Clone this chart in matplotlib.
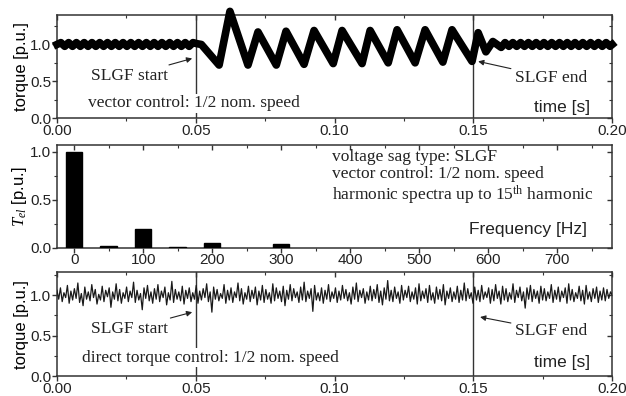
import matplotlib
matplotlib.use('Agg')
import matplotlib.pyplot as plt
from matplotlib.ticker import MultipleLocator, FormatStrFormatter

# --- data ---
# vector control torque: key points of the (thick) waveform
t_vc = [0.0, 0.0014, 0.0028, 0.0042, 0.0056, 0.0070, 0.0084, 0.0098, 0.0112, 0.0126,
        0.0140, 0.0154, 0.0168, 0.0182, 0.0196, 0.0210, 0.0224, 0.0238, 0.0252, 0.0266,
        0.0280, 0.0294, 0.0308, 0.0322, 0.0336, 0.0350, 0.0364, 0.0378, 0.0392, 0.0406,
        0.0420, 0.0434, 0.0448, 0.0462, 0.0476, 0.0490, 0.0505, 0.0520,
        0.0584, 0.0623, 0.0688, 0.0724, 0.0790, 0.0825, 0.0890, 0.0926, 0.0995, 0.1027,
        0.1099, 0.1128, 0.1193, 0.1225, 0.1290, 0.1326, 0.1390, 0.1423, 0.1495, 0.1517,
        0.1545, 0.1570, 0.1600, 0.1614, 0.1628, 0.1642, 0.1656, 0.1670, 0.1684, 0.1698,
        0.1712, 0.1726, 0.1740, 0.1754, 0.1768, 0.1782, 0.1796, 0.1810, 0.1824, 0.1838,
        0.1852, 0.1866, 0.1880, 0.1894, 0.1908, 0.1922, 0.1936, 0.1950, 0.1964, 0.1978,
        0.1992, 0.2000]
v_vc = [1.0, 1.025, 0.975, 1.025, 0.975, 1.025, 0.975, 1.025, 0.975, 1.025,
        0.975, 1.025, 0.975, 1.025, 0.975, 1.025, 0.975, 1.025, 0.975, 1.025,
        0.975, 1.025, 0.975, 1.025, 0.975, 1.025, 0.975, 1.025, 0.975, 1.025,
        0.975, 1.025, 0.975, 1.025, 0.975, 1.025, 1.01, 1.00,
        0.72, 1.45, 0.72, 1.17, 0.72, 1.18, 0.73, 1.19, 0.74, 1.19,
        0.74, 1.19, 0.75, 1.20, 0.75, 1.20, 0.76, 1.20, 0.77, 1.16,
        0.90, 1.04, 0.96, 1.025, 0.975, 1.025, 0.975, 1.025, 0.975, 1.025,
        0.975, 1.025, 0.975, 1.025, 0.975, 1.025, 0.975, 1.025, 0.975, 1.025,
        0.975, 1.025, 0.975, 1.025, 0.975, 1.025, 0.975, 1.025, 0.975, 1.025,
        0.975, 1.00]

# harmonic spectrum
freq = [0, 50, 100, 150, 200, 300]
t_el = [1.0, 0.02, 0.20, 0.005, 0.05, 0.04]

# direct torque control torque (noisy trace, hand-read samples over 0..0.2 s)
dtc = [1.06, 0.95, 1.09, 0.92, 1.03, 0.97, 1.12, 0.90, 1.05, 0.94, 1.08, 0.96, 1.15, 0.91, 1.02, 0.87, 1.10, 0.95, 1.04, 0.93,
       1.13, 0.97, 1.07, 0.89, 1.01, 0.94, 1.11, 0.92, 1.06, 0.98, 1.09, 0.85, 1.04, 0.95, 1.14, 0.93, 1.07, 0.90, 1.03, 0.96,
       1.10, 0.92, 1.05, 0.97, 1.16, 0.91, 1.06, 0.94, 1.02, 0.82, 1.09, 0.96, 1.12, 0.93, 1.04, 0.90, 1.08, 0.95, 1.13, 0.92,
       1.05, 0.97, 1.10, 0.88, 1.03, 0.94, 1.17, 0.91, 1.07, 0.95, 1.04, 0.93, 1.11, 0.89, 1.06, 0.96, 1.09, 0.92, 1.03, 0.95,
       1.12, 0.90, 1.05, 0.94, 1.08, 0.97, 1.14, 0.92, 1.04, 0.79, 1.10, 0.95, 1.07, 0.93, 1.02, 0.96, 1.13, 0.90, 1.06, 0.94,
       1.09, 0.91, 1.04, 0.97, 1.15, 0.93, 1.08, 0.89, 1.03, 0.95, 1.11, 0.92, 1.06, 0.96, 1.10, 0.88, 1.05, 0.94, 1.12, 0.91,
       1.07, 0.95, 1.03, 0.90, 1.14, 0.93, 1.09, 0.96, 1.05, 0.92, 1.11, 0.87, 1.06, 0.95, 1.13, 0.93, 1.08, 0.97, 1.04, 0.91,
       1.10, 0.94, 1.16, 0.92, 1.05, 0.96, 1.08, 0.80, 1.12, 0.94, 1.03, 0.93, 1.09, 0.90, 1.06, 0.95, 1.13, 0.92, 1.04, 0.96,
       1.09, 0.91, 1.05, 0.94, 1.12, 0.96, 1.07, 0.93, 1.03, 0.89, 1.10, 0.95, 1.15, 0.92, 1.06, 0.97, 1.08, 0.90, 1.04, 0.94,
       1.11, 0.93, 1.07, 0.96, 1.13, 0.91, 1.05, 0.88, 1.09, 0.95, 1.18, 0.93, 1.06, 0.92, 1.10, 0.96, 1.04, 0.90, 1.12, 0.94,
       1.06, 0.97, 1.11, 0.92, 1.04, 0.95, 1.09, 0.89, 1.14, 0.93, 1.05, 0.96, 1.08, 0.91, 1.12, 0.94, 1.03, 0.90, 1.10, 0.95,
       1.07, 0.93, 1.13, 0.88, 1.05, 0.96, 1.09, 0.92, 1.04, 0.95, 1.11, 0.91, 1.06, 0.94, 1.15, 0.93, 1.08, 0.96, 1.03, 0.90,
       1.10, 0.94, 1.06, 0.92, 1.12, 0.95, 1.04, 0.97, 1.09, 0.90, 1.07, 0.93, 1.13, 0.96, 1.05, 0.89, 1.11, 0.94, 1.08, 0.92,
       1.03, 0.95, 1.14, 0.91, 1.06, 0.97, 1.10, 0.93, 1.04, 0.84, 1.09, 0.95, 1.12, 0.92, 1.07, 0.96, 1.05, 0.90, 1.11, 0.94,
       1.08, 0.93, 1.04, 0.96, 1.13, 0.91, 1.06, 0.95, 1.10, 0.92, 1.05, 0.97, 1.09, 0.90, 1.14, 0.94, 1.07, 0.92, 1.03, 0.96,
       1.11, 0.93, 1.06, 0.89, 1.12, 0.95, 1.04, 0.92, 1.08, 0.96, 1.10, 0.91, 1.05, 0.94, 1.09, 0.93, 1.07, 0.96, 1.04, 1.00]
t_dtc = [0.2 * i / (len(dtc) - 1) for i in range(len(dtc))]

fault_start, fault_end = 0.05, 0.15

plt.rcParams['font.family'] = ['Liberation Sans', 'DejaVu Sans']
plt.rcParams['mathtext.fontset'] = 'custom'
plt.rcParams['mathtext.rm'] = 'Liberation Serif'
plt.rcParams['mathtext.it'] = 'Liberation Serif:italic'

serif = dict(family='Liberation Serif', fontsize=12.5, color='#222222')
sans = dict(family='Liberation Sans', fontsize=12.5, color='#222222')
FC = '#333333'

fig = plt.figure(figsize=(6.26, 3.96), dpi=100)
ax1 = fig.add_axes([0.091, 0.702, 0.887, 0.260])
ax2 = fig.add_axes([0.091, 0.374, 0.887, 0.260])
ax3 = fig.add_axes([0.091, 0.050, 0.887, 0.262])


def style(ax):
    for s in ax.spines.values():
        s.set_color(FC)
        s.set_linewidth(1.1)
    ax.tick_params(which='both', colors=FC, labelsize=11, labelcolor='#222222', pad=0.5)
    ax.tick_params(which='major', length=3.5, width=1)
    ax.tick_params(which='minor', length=2.2, width=0.8)
    ax.tick_params(which='both', top=True, right=True, direction='out')
    # top/right ticks point inwards, bottom/left outwards
    for t in ax.xaxis.get_major_ticks() + ax.xaxis.get_minor_ticks():
        t.tick2line.set_marker(3)
    for t in ax.yaxis.get_major_ticks() + ax.yaxis.get_minor_ticks():
        t.tick2line.set_marker(0)


def time_axes(ax, ymax):
    ax.set_xlim(0, 0.2)
    ax.set_ylim(0, ymax)
    ax.xaxis.set_major_locator(MultipleLocator(0.05))
    ax.xaxis.set_minor_locator(MultipleLocator(0.025))
    ax.yaxis.set_major_locator(MultipleLocator(0.5))
    ax.yaxis.set_minor_locator(MultipleLocator(0.25))
    ax.xaxis.set_major_formatter(FormatStrFormatter('%.2f'))
    ax.yaxis.set_major_formatter(FormatStrFormatter('%.1f'))
    ax.axvline(fault_start, color=FC, lw=1, zorder=1)
    ax.axvline(fault_end, color=FC, lw=1, zorder=1)
    ax.set_ylabel('torque [p.u.]', fontsize=12, labelpad=1)
    style(ax)


arrow = dict(arrowstyle='-|>', color='#222222', lw=0.8, mutation_scale=8, shrinkA=1, shrinkB=0)

# top: vector control
time_axes(ax1, 1.4)
ax1.plot(t_vc, v_vc, color='black', lw=5.5, solid_joinstyle='round', clip_on=False, zorder=3)
ax1.annotate('SLGF start', xy=(0.0487, 0.81), xytext=(0.026, 0.57), ha='center', va='center',
             arrowprops=arrow, **serif)
ax1.annotate('SLGF end', xy=(0.1517, 0.77), xytext=(0.178, 0.55), ha='center', va='center',
             arrowprops=arrow, **serif)
ax1.text(0.0112, 0.2, 'vector control: 1/2 nom. speed', ha='left', va='center', zorder=4,
         bbox=dict(fc='white', ec='none', pad=1), **serif)
ax1.text(0.192, 0.14, 'time [s]', ha='right', va='center', **sans)

# middle: harmonic spectrum
ax2.bar(freq, t_el, width=24, color='black', edgecolor='black', zorder=3)
ax2.set_xlim(-25, 780)
ax2.set_ylim(0, 1.07)
ax2.xaxis.set_major_locator(MultipleLocator(100))
ax2.xaxis.set_minor_locator(MultipleLocator(50))
ax2.yaxis.set_major_locator(MultipleLocator(0.5))
ax2.yaxis.set_minor_locator(MultipleLocator(0.25))
ax2.yaxis.set_major_formatter(FormatStrFormatter('%.1f'))
ax2.set_ylabel(r'$T_{el}$ [p.u.]', fontsize=12, labelpad=1)
style(ax2)
ax2.text(0.495, 0.96, 'voltage sag type: SLGF\nvector control: 1/2 nom. speed\n'
         r'harmonic spectra up to 15$^{\rm th}$ harmonic',
         transform=ax2.transAxes, ha='left', va='top', linespacing=1.1, **serif)
ax2.text(0.955, 0.175, 'Frequency [Hz]', transform=ax2.transAxes, ha='right', va='center', **sans)

# bottom: direct torque control
time_axes(ax3, 1.28)
ax3.plot(t_dtc, dtc, color='#1a1a1a', lw=0.9, zorder=3)
ax3.annotate('SLGF start', xy=(0.0487, 0.79), xytext=(0.026, 0.58), ha='center', va='center',
             arrowprops=arrow, **serif)
ax3.annotate('SLGF end', xy=(0.1524, 0.73), xytext=(0.178, 0.56), ha='center', va='center',
             arrowprops=arrow, **serif)
ax3.text(0.009, 0.23, 'direct torque control: 1/2 nom. speed', ha='left', va='center', zorder=4,
         bbox=dict(fc='white', ec='none', pad=1), **serif)
ax3.text(0.192, 0.17, 'time [s]', ha='right', va='center', **sans)

fig.savefig('out.png', dpi=100)
